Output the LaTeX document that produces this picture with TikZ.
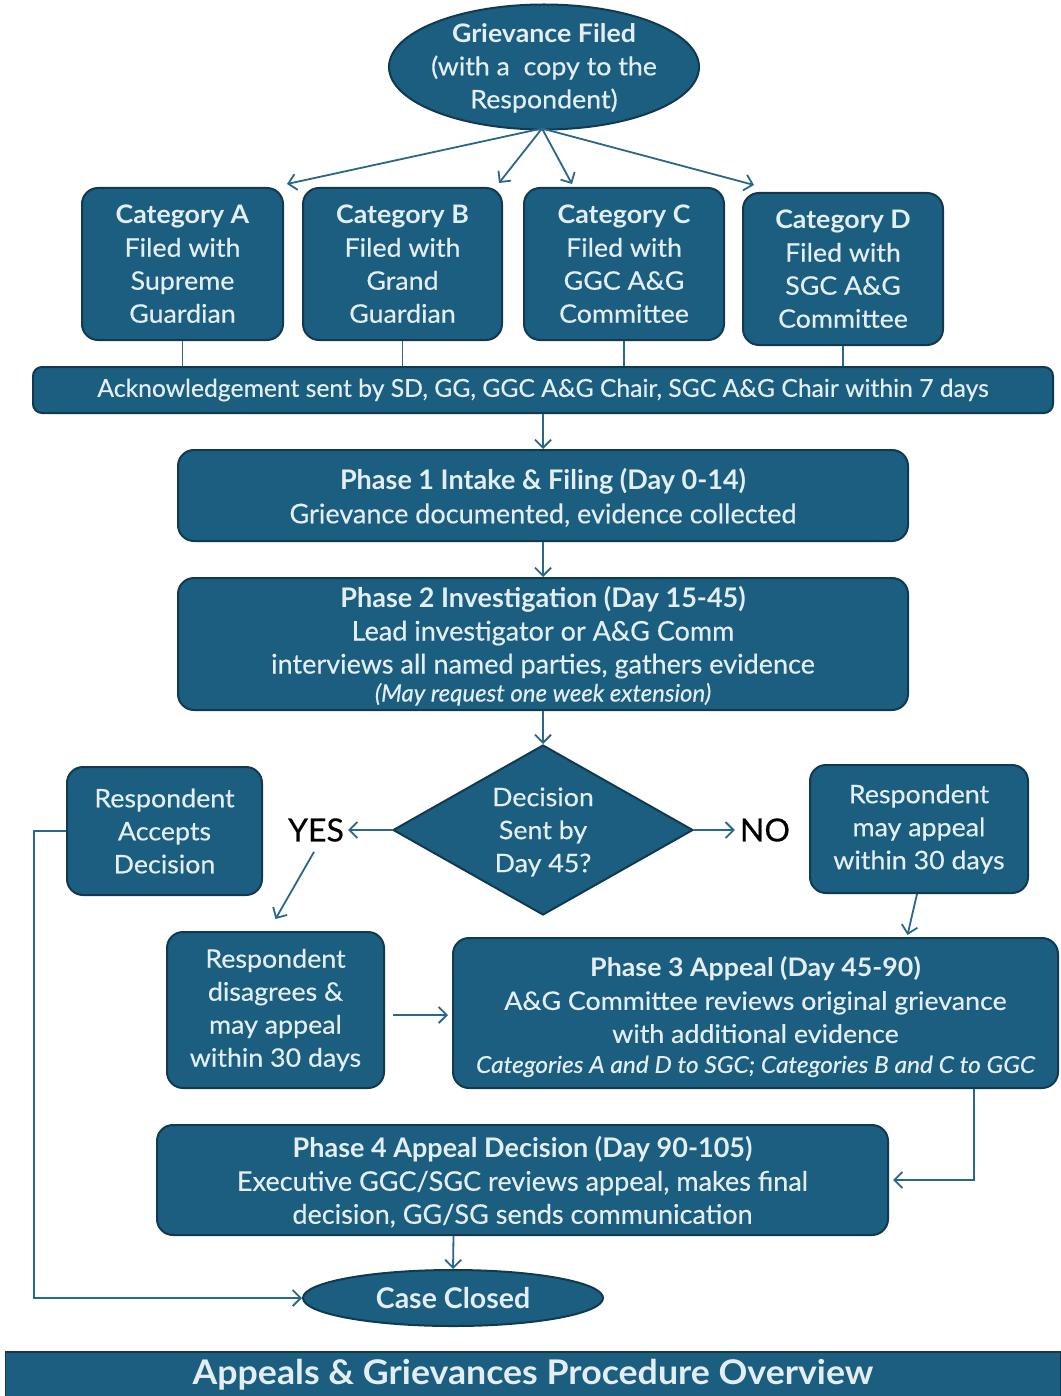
\documentclass[tikz,border=0pt]{standalone}
\usepackage{fontspec}
\setmainfont{Lato}[FakeStretch=1.05, UprightFeatures={FakeBold=0.4}, ItalicFeatures={FakeBold=0.4}]
\newfontfamily\nf{Lato}[UprightFeatures={FakeBold=0.4}, ItalicFeatures={FakeBold=0.4}]
\usetikzlibrary{shapes.geometric,arrows.meta,calc}
\definecolor{boxfill}{HTML}{1B5E80}
\definecolor{boxline}{HTML}{113A50}
\definecolor{boxtext}{HTML}{E3EEF3}
\definecolor{arr}{HTML}{2A6788}
\begin{document}
\begin{tikzpicture}[x=1pt,y=-1pt,
  box/.style={draw=boxline, line width=2pt, fill=boxfill, rounded corners=16pt, text=boxtext, align=center, inner sep=0pt, font=\fontsize{25.5}{33}\selectfont},
  nbox/.style={box, font=\nf\fontsize{27}{33}\selectfont},
  oval/.style={ellipse, draw=boxline, line width=2pt, fill=boxfill, inner sep=0pt},
  lbl/.style={text=boxtext, align=center, inner sep=0pt},
  arrow/.style={draw=arr, line width=1.8pt, -{Straight Barb[length=8pt,width=16pt,line width=1.8pt]}},
  link/.style={draw=arr, line width=1.8pt},
  yn/.style={text=black, font=\nf\fontsize{32}{34}\selectfont, inner sep=0pt}
]
\useasboundingbox (0,0) rectangle (1060,1396);
\fill[white] (0,0) rectangle (1060,1396);

% top ellipse
\node[oval, minimum width=310pt, minimum height=125pt,
  label={[lbl, font=\fontsize{25.5}{33}\selectfont, yshift=-1pt]center:{\textbf{Grievance Filed}\\(with a\ \ copy to the\\Respondent)}}] (gf) at (544,67) {};

% categories
\node[box, minimum width=201pt, minimum height=152pt] (catA) at (182.5,264) {\textbf{Category A}\\Filed with\\Supreme\\Guardian};
\node[box, minimum width=199pt, minimum height=152pt] (catB) at (402.5,264) {\textbf{Category B}\\Filed with\\Grand\\Guardian};
\node[box, minimum width=200pt, minimum height=152pt] (catC) at (624,264) {\textbf{Category C}\\Filed with\\GGC A\&G\\Committee};
\node[box, minimum width=200pt, minimum height=152pt] (catD) at (843,269) {\textbf{Category D}\\Filed with\\SGC A\&G\\Committee};

% acknowledgement bar
\node[nbox, rounded corners=9pt, minimum width=1020pt, minimum height=46pt, font=\nf\fontsize{24.7}{28}\selectfont] (ack) at (543,390) {Acknowledgement sent by SD, GG, GGC A\&G Chair, SGC A\&G Chair within 7 days};

% phases
\node[nbox, minimum width=730pt, minimum height=91pt,
  label={[lbl, font=\nf\fontsize{27}{34}\selectfont, yshift=-2pt]center:{\textbf{Phase 1 Intake \& Filing (Day 0-14)}\\Grievance documented, evidence collected}}] (p1) at (543,495.5) {};
\node[nbox, minimum width=730pt, minimum height=132pt,
  label={[lbl, font=\nf\fontsize{27}{33}\selectfont, yshift=-2pt]center:{\textbf{Phase 2 Investigation (Day 15-45)}\\Lead investigator or A\&G Comm\\interviews all named parties, gathers evidence\\[-5pt]{\fontsize{24}{28}\selectfont\itshape (May request one week extension)}}}] (p2) at (543,644) {};

% decision diamond
\node[diamond, draw=boxline, line width=2pt, fill=boxfill, inner sep=0pt, aspect=1.76, minimum width=300pt, minimum height=170pt,
  label={[lbl, font=\fontsize{25.5}{33}\selectfont, yshift=-2pt]center:{Decision\\Sent by\\Day 45?}}] (dec) at (543,830) {};
\node[yn] (yes) at (316,830) {YES};
\node[yn] (no) at (765,830) {NO};

\node[box, minimum width=195pt, minimum height=128pt] (acc) at (164.5,831) {Respondent\\Accepts\\Decision};
\node[box, minimum width=218pt, minimum height=128pt] (may) at (919,829) {Respondent\\may appeal\\within 30 days};
\node[box, minimum width=217pt, minimum height=156pt] (dis) at (275.5,1010) {Respondent\\disagrees \&\\may appeal\\within 30 days};
\node[box, minimum width=605pt, minimum height=150pt,
  label={[lbl, font=\fontsize{25.5}{33}\selectfont, yshift=-4pt]center:{\textbf{Phase 3 Appeal (Day 45-90)}\\A\&G Committee reviews original grievance\\with additional evidence\\[-3pt]{\fontsize{23.3}{27}\selectfont\itshape Categories A and D to SGC; Categories B and C to GGC}}}] (p3) at (755.5,1013) {};
\node[nbox, minimum width=731pt, minimum height=110pt,
  label={[lbl, font=\nf\fontsize{27}{33}\selectfont, yshift=-2pt]center:{\textbf{Phase 4 Appeal Decision (Day 90-105)}\\Executive GGC/SGC reviews appeal, makes final\\decision, GG/SG sends communication}}] (p4) at (522.5,1180) {};

% case closed
\node[oval, minimum width=300pt, minimum height=56pt,
  label={[lbl, font=\nf\fontsize{28.5}{30}\selectfont\bfseries]center:{Case Closed}}] (cc) at (453,1298) {};

% title bar
\node[draw=boxline, line width=1.5pt, fill=boxfill, text=boxtext, inner sep=0pt, minimum width=1055pt, minimum height=46pt, font=\fontsize{34}{36}\selectfont\bfseries] (title) at (533,1375) {Appeals \& Grievances Procedure Overview};

% connectors
\coordinate (gfb) at ($(gf.south)+(-2,-2)$);
\draw[arrow] (gfb) -- ($(catA.north east)+(3,-3)$);
\draw[arrow] (gfb) -- ($(catB.north east)+(-4,-4)$);
\draw[arrow] (gfb) -- ($(catC.north)+(-52,-3)$);
\draw[arrow] (gfb) -- ($(catD.north west)+(12,-7)$);

\foreach \c in {catA,catB,catC,catD}{
  \draw[link] (\c.south) -- (\c.south |- ack.north);
}
\draw[arrow] (ack.south) -- (p1.north);
\draw[arrow] (p1.south) -- (p2.north);
\draw[arrow] (p2.south) -- (dec.north);
\draw[arrow] (dec.west) -- ($(yes.east)+(4,0)$);
\draw[arrow] (dec.east) -- ($(no.west)+(-5,0)$);
\draw[arrow] ($(yes.south)+(-2,10)$) -- ($(dis.north)+(0,-12)$);
\draw[arrow] ($(may.south)+(-2,0)$) -- ($(p3.north)+(152,-2)$);
\draw[arrow] ($(dis.east)+(8,5)$) -- ($(p3.west)+(-4,2)$);
\draw[arrow] ($(p3.south east)+(-85,0)$) |- ($(p4.east)+(4,0)$);
\draw[arrow] ($(p4.south)+(-69,0)$) -- (cc.north);
\draw[arrow] (acc.west) -- ++(-32,0) |- (cc.west);
\end{tikzpicture}
\end{document}
